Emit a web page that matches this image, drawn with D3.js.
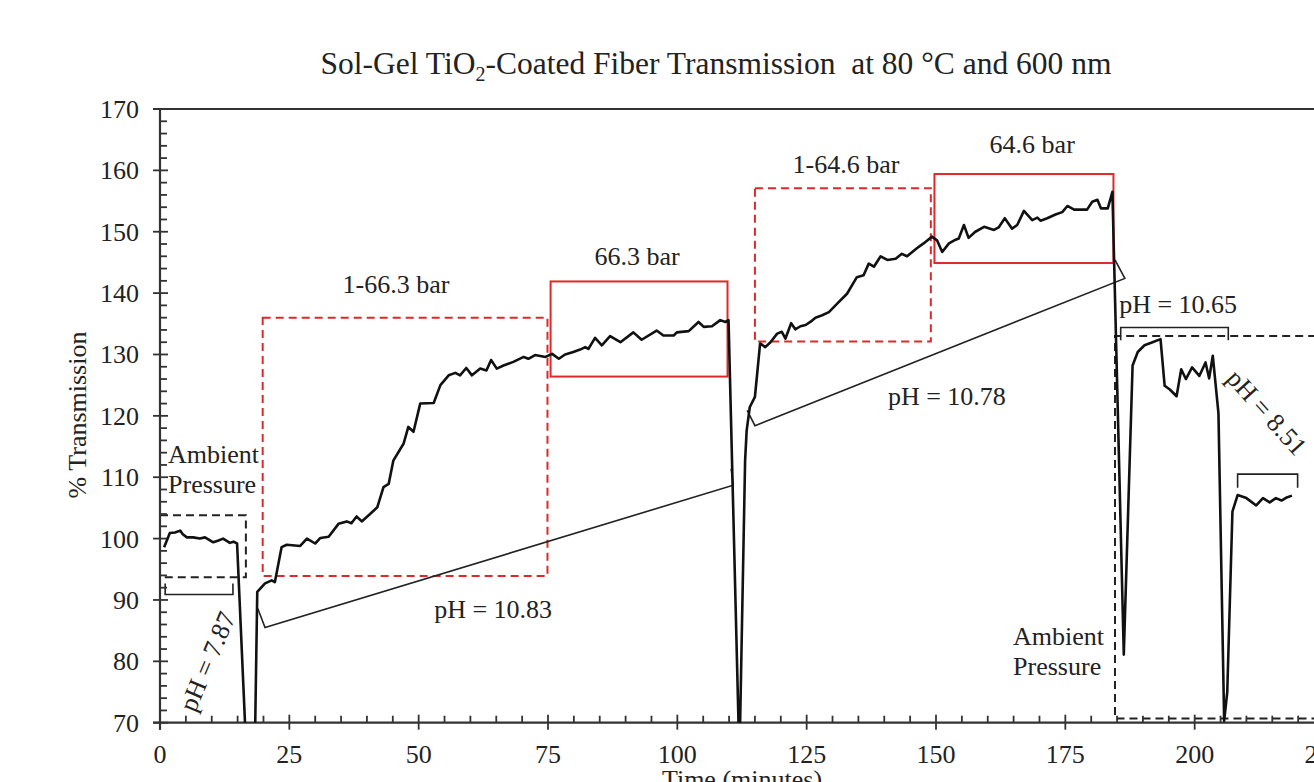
<!DOCTYPE html>
<html><head><meta charset="utf-8">
<script src="https://cdn.jsdelivr.net/npm/d3@7"></script>
<style>
html,body{margin:0;padding:0;background:#fff;overflow:hidden}
text{font-family:"Liberation Serif","Times New Roman",serif;fill:#222}
</style></head>
<body><svg id="c" width="1314" height="782"></svg>
<script>
// ---- data ----
const timeMin = [0.8,1.9,2.9,3.9,4.4,5.2,6.4,7.7,8.7,10.3,11.3,12.2,13.5,14.2,14.9,17.9,18.8,20.3,21.6,22.2,23.5,24.5,27.1,28.4,30.0,31.0,32.6,34.5,36.1,37.0,38.0,39.0,40.6,42.0,43.2,44.2,45.1,47.1,48.0,49.0,50.3,52.9,54.2,55.8,57.1,58.0,59.2,60.3,61.9,63.1,64.0,65.1,66.4,68.3,70.3,71.2,72.5,74.5,75.8,77.1,78.3,79.9,81.2,82.2,82.8,84.1,85.4,87.0,89.0,91.5,93.1,96.0,97.3,99.3,99.9,102.2,104.1,105.1,106.7,108.3,109.3,109.9,112.0,113.1,113.4,114.0,115.0,116.0,117.0,118.0,119.3,120.2,120.9,122.0,122.8,123.8,124.8,125.7,126.7,128.0,129.3,130.9,132.8,134.7,136.0,137.0,138.0,139.3,140.6,142.2,143.4,144.4,146.3,147.6,149.2,150.2,151.2,152.5,153.8,154.4,155.4,156.3,157.6,159.3,161.2,162.1,163.3,164.7,165.7,167.0,168.6,169.6,170.2,171.5,173.1,174.4,175.4,176.7,179.2,180.2,181.2,181.9,183.2,184.1,186.3,188.0,189.0,190.3,191.6,193.4,194.2,195.2,196.5,197.4,198.3,199.5,200.9,202.1,202.8,203.5,204.6,205.7,206.3,207.3,208.3,210.0,211.9,213.2,214.5,215.7,216.8,217.8,218.8];
const transmission = [98.6,100.9,101.0,101.3,100.7,100.2,100.2,100.0,100.2,99.4,99.7,100.0,99.3,99.5,99.2,42,91.3,92.7,93.2,92.9,98.6,99.0,98.8,100.0,99.2,100.1,100.3,102.4,102.8,102.5,103.6,102.8,104.0,105.1,108.4,108.9,112.7,115.5,118.2,117.4,122.0,122.1,125.0,126.6,127.0,126.6,127.8,126.6,127.7,127.4,129.1,127.7,128.2,128.8,129.6,129.3,129.9,129.6,130.1,129.3,130.0,130.4,130.8,131.2,130.9,132.7,131.5,133.0,132.0,133.6,132.4,133.9,133.1,133.1,133.6,133.8,135.3,134.5,134.6,135.6,135.3,135.6,64,112.7,117.6,121.4,123.1,131.8,131.2,132.0,133.4,133.7,132.6,135.1,134.1,134.6,134.8,135.3,136.0,136.4,136.9,138.3,139.9,142.6,142.9,144.8,144.3,146.0,145.4,145.6,146.4,146.0,147.3,148.1,149.2,148.6,146.7,148.1,148.7,148.9,151.1,149.0,150.0,150.8,150.3,150.7,152.2,150.5,151.1,153.4,151.9,152.3,151.8,152.2,152.8,153.2,154.2,153.6,153.6,154.9,155.2,153.8,153.8,156.5,81.1,128.2,130.4,131.5,131.9,132.5,124.9,124.3,123.2,127.6,126.0,127.9,126.5,128.7,126.1,129.8,120.4,70.3,75.0,104.4,107.1,106.6,105.4,106.6,105.9,106.6,106.2,106.7,107.0];

const xTicks = [0,25,50,75,100,125,150,175,200,225];
const yTicks = [70,80,90,100,110,120,130,140,150,160,170];

// pressure stage boxes: [t0, t1, v0, v1]
const dashedRedBoxes = [[19.85,74.9,93.9,136.0],[115.0,149.0,132.1,157.1]];
const solidRedBoxes  = [[75.5,109.7,126.4,141.9],[149.7,184.3,144.9,159.4]];
const ambientBoxLeft = [0,16.6,93.7,103.8];
const ambientBoxRight = [184.6,226,70.7,133.0];

// pH brackets as polylines of [t, v]
const brackets = [
  [[1.0,92.7],[1.0,90.9],[14.1,90.9],[14.1,92.7]],
  [[18.9,88.6],[20.3,85.5],[110.8,108.7],[110.4,111.4]],
  [[113.5,120.9],[115.0,118.4],[186.5,142.4],[184.6,145.4]],
  [[185.7,132.3],[185.7,134.4],[206.5,134.4],[206.5,132.3]],
  [[208.3,108.3],[208.3,110.5],[219.9,110.5],[219.9,108.3]]
];

// labels: [text, t, v, anchor]
const labels = [
  ["Ambient",1.55,112.3,"start"],
  ["Pressure",1.55,107.4,"start"],
  ["1-66.3 bar",45.6,140.0,"middle"],
  ["66.3 bar",92.2,144.6,"middle"],
  ["1-64.6 bar",132.6,159.5,"middle"],
  ["64.6 bar",168.6,162.8,"middle"],
  ["pH = 10.83",64.4,87.1,"middle"],
  ["pH = 10.78",152.1,121.8,"middle"],
  ["pH = 10.65",185.4,136.8,"start"],
  ["Ambient",164.9,82.7,"start"],
  ["Pressure",164.9,77.8,"start"]
];
const rotLabels = [
  ["pH = 7.87",9.1,80.0,-67],
  ["pH = 8.51",214.0,120.6,48]
];

// ---- chart ----
const svg = d3.select("#c");
const x = d3.scaleLinear().domain([0,225]).range([160,1324]);
const y = d3.scaleLinear().domain([70,170]).range([722.7,109]);
const AX = "#333";

svg.append("defs").append("clipPath").attr("id","clip")
  .append("rect").attr("x",x(0)).attr("y",y(170)).attr("width",x(225)-x(0)).attr("height",y(70)-y(170));

// title
const title = svg.append("text").attr("x",716).attr("y",74).attr("text-anchor","middle")
  .style("font-size","31.5px");
title.append("tspan").text("Sol-Gel TiO");
title.append("tspan").attr("dy",7).style("font-size","20px").text("2");
title.append("tspan").attr("dy",-7).text("-Coated Fiber Transmission\u00A0 at 80 \u00B0C and 600 nm");

// boxes
function box(b, color, dash){
  svg.append("rect").attr("x",x(b[0])).attr("y",y(b[3]))
    .attr("width",x(b[1])-x(b[0])).attr("height",y(b[2])-y(b[3]))
    .attr("fill","none").attr("stroke",color).attr("stroke-width",2)
    .attr("stroke-dasharray",dash);
}
dashedRedBoxes.forEach(b=>box(b,"#dc2a2a","8,5"));
solidRedBoxes.forEach(b=>box(b,"#dc2a2a",null));
box(ambientBoxLeft,"#222","8,5");
const rb = ambientBoxRight;
svg.append("path").attr("fill","none").attr("stroke","#222").attr("stroke-width",2)
  .attr("stroke-dasharray","8,5")
  .attr("d",`M${x(rb[1])},${y(rb[3])}H${x(rb[0])}V${y(rb[2])}H${x(rb[1])}`);

// brackets
const bl = d3.line().x(d=>x(d[0])).y(d=>y(d[1]));
brackets.forEach(b=>svg.append("path").attr("d",bl(b)).attr("fill","none")
  .attr("stroke","#222").attr("stroke-width",1.6));

// axes
svg.append("line").attr("x1",x(0)-7).attr("x2",x(225)).attr("y1",y(70)).attr("y2",y(70))
  .attr("stroke",AX).attr("stroke-width",2.2);
svg.append("line").attr("x1",x(0)-7).attr("x2",x(225)).attr("y1",y(170)).attr("y2",y(170))
  .attr("stroke",AX).attr("stroke-width",2.2);
svg.append("line").attr("x1",x(0)).attr("x2",x(0)).attr("y1",y(70)+7).attr("y2",y(170))
  .attr("stroke",AX).attr("stroke-width",2.2);

d3.range(0,226,5).forEach(t=>{
  const major = t%25===0;
  svg.append("line").attr("x1",x(t)).attr("x2",x(t))
    .attr("y1",y(70)+(major?7:0)).attr("y2",y(70)-(major?8:7))
    .attr("stroke",AX).attr("stroke-width",1.8);
});
d3.range(70,171,2).forEach(v=>{
  const major = (v-70)%10===0;
  svg.append("line").attr("y1",y(v)).attr("y2",y(v))
    .attr("x1",x(0)-(major?7:0)).attr("x2",x(0)+(major?8:7))
    .attr("stroke",AX).attr("stroke-width",1.8);
});
xTicks.forEach(t=>svg.append("text").attr("x",x(t)).attr("y",763).attr("text-anchor","middle")
  .style("font-size","26px").text(t));
yTicks.forEach(v=>svg.append("text").attr("x",139).attr("y",y(v)+9).attr("text-anchor","end")
  .style("font-size","26px").text(v));

svg.append("text").attr("transform","translate(86,415) rotate(-90)").attr("text-anchor","middle")
  .style("font-size","26px").text("% Transmission");
svg.append("text").attr("x",742).attr("y",788).attr("text-anchor","middle")
  .style("font-size","26px").text("Time (minutes)");

// data line
const line = d3.line().x((d,i)=>x(timeMin[i])).y((d,i)=>y(transmission[i]));
svg.append("path").attr("clip-path","url(#clip)").attr("d",line(transmission))
  .attr("fill","none").attr("stroke","#111").attr("stroke-width",2.6).attr("stroke-linejoin","round");

// labels
labels.forEach(l=>svg.append("text").attr("x",x(l[1])).attr("y",y(l[2]))
  .attr("text-anchor",l[3]).style("font-size","26px").text(l[0]));
rotLabels.forEach(l=>svg.append("text")
  .attr("transform",`translate(${x(l[1])},${y(l[2])}) rotate(${l[3]})`)
  .attr("text-anchor","middle").attr("dy","0.35em").style("font-size","26px").text(l[0]));
</script></body></html>
